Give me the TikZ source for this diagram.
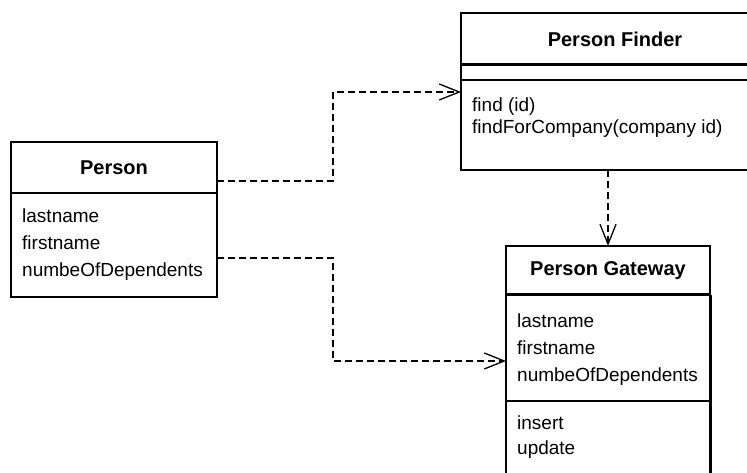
\documentclass[tikz,border=0pt]{standalone}
\usepackage{fontspec}
\setmainfont{Liberation Sans}
\usetikzlibrary{arrows.meta}

\begin{document}
\begin{tikzpicture}[x=1pt, y=1pt,
	box/.style={draw, line width=1.3pt, inner sep=0pt, outer sep=0pt},
	head/.style={box, font=\bfseries\fontsize{20}{24}\selectfont},
	members/.style={inner sep=0pt, anchor=north west, align=left, font=\fontsize{19}{27}\selectfont},
	dep/.style={line width=1.3pt, dash pattern=on 7pt off 4pt, -{Straight Barb[length=20pt, width=16pt]}}]
	\clip (0, 0) rectangle (747, 473);
	% Person
	\node[head, minimum width=206pt, minimum height=51pt] (person) at (114, 305.5) {Person};
	\node[box, minimum width=206pt, minimum height=104pt, anchor=north] (personattrs) at (person.south) {};
	\node[members] (personattrlist) at ([shift={(11, -16)}]personattrs.north west) {lastname\\firstname\\numbeOfDependents};
	% Person Finder
	\node[head, minimum width=308pt, minimum height=52pt] (finder) at (615, 434) {Person Finder};
	\node[box, minimum width=308pt, minimum height=15pt, anchor=north] (finderattrs) at (finder.south) {};
	\node[box, minimum width=308pt, minimum height=90pt, anchor=north] (finderops) at (finderattrs.south) {};
	\node[members, font=\fontsize{19}{22}\selectfont] (finderoplist) at ([shift={(11, -18)}]finderops.north west) {find (id)\\findForCompany(company id)};
	\draw[line width=3pt] (finder.south west) -- (finder.south east);
	% Person Gateway
	\node[head, minimum width=204pt, minimum height=49pt] (gateway) at (608, 202.5) {Person Gateway};
	\node[box, minimum width=204pt, minimum height=106pt, anchor=north] (gatewayattrs) at (gateway.south) {};
	\node[box, minimum width=204pt, minimum height=110pt, anchor=north] (gatewayops) at (gatewayattrs.south) {};
	\node[members] (gatewayattrlist) at ([shift={(11, -19)}]gatewayattrs.north west) {lastname\\firstname\\numbeOfDependents};
	\node[members, font=\fontsize{19}{25}\selectfont] (gatewayoplist) at ([shift={(11, -15)}]gatewayops.north west) {insert\\update};
	\draw[line width=3pt] (gateway.south west) -- (gateway.south east);
	\draw[line width=3pt] (gatewayattrs.north east) -- (gatewayops.south east);
	% dependencies
	\draw[dep] ([yshift=-13.5pt]person.east) -- ++(116pt, 0) |- ([yshift=-12pt]finderops.north west);
	\draw[dep] ([yshift=-13pt]personattrs.east) -- ++(116pt, 0) |- ([yshift=-13pt]gatewayattrs.west);
	\draw[dep] (finderops.south -| gateway.north) -- (gateway.north);
\end{tikzpicture}
\end{document}
